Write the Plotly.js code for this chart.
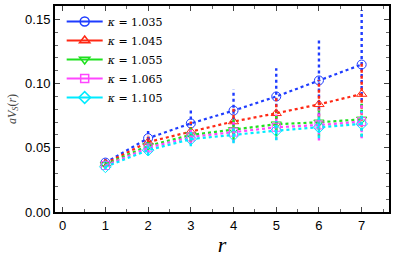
<!DOCTYPE html>
<html>
<head>
<meta charset="utf-8">
<script src="https://cdn.plot.ly/plotly-3.0.1.min.js"></script>
<style>html,body{margin:0;padding:0;background:#fff;}#chart{width:399px;height:257px;}</style>
</head>
<body>
<div id="chart"></div>
<script>
const r = [1, 2, 3, 4, 5, 6, 7];
const labels = ["1.035", "1.045", "1.055", "1.065", "1.105"];
const vBlue    = [0.0385, 0.0575, 0.0690, 0.0790, 0.0900, 0.1025, 0.1149];
const vRed     = [0.0378, 0.0545, 0.0626, 0.0705, 0.0769, 0.0839, 0.0919];
const vGreen   = [0.0370, 0.0516, 0.0600, 0.0640, 0.0684, 0.0699, 0.0722];
const vMagenta = [0.0362, 0.0500, 0.0585, 0.0622, 0.0660, 0.0678, 0.0704];
const vCyan    = [0.0352, 0.0482, 0.0568, 0.0600, 0.0634, 0.0660, 0.0686];
const eBlue    = [0.0030, 0.0060, 0.0110, 0.0165, 0.0220, 0.0320, 0.0425];
const eRed     = [0.0025, 0.0050, 0.0080, 0.0110, 0.0140, 0.0190, 0.0255];
const eGreen   = [0.0020, 0.0040, 0.0060, 0.0080, 0.0095, 0.0110, 0.0135];
const eMagenta = [0.0020, 0.0040, 0.0060, 0.0080, 0.0100, 0.0120, 0.0130];
const eCyan    = [0.0020, 0.0040, 0.0055, 0.0065, 0.0075, 0.0085, 0.0100];

const series = [
  {v: vBlue, e: eBlue, color: 'rgb(30,60,255)', symbol: 'circle-open', size: 9},
  {v: vRed, e: eRed, color: 'rgb(255,40,20)', symbol: 'triangle-up-open', size: 9},
  {v: vGreen, e: eGreen, color: 'rgb(30,225,30)', symbol: 'triangle-down-open', size: 9},
  {v: vMagenta, e: eMagenta, color: 'rgb(255,70,255)', symbol: 'square-open', size: 8},
  {v: vCyan, e: eCyan, color: 'rgb(0,235,255)', symbol: 'diamond-open', size: 9}
];

const traces = [];
series.forEach((s, i) => {
  const ex = [], ey = [];
  r.forEach((x, k) => { ex.push(x, x, null); ey.push(s.v[k] - s.e[k], s.v[k] + s.e[k], null); });
  traces.push({x: ex, y: ey, mode: 'lines', showlegend: false, hoverinfo: 'skip',
    line: {color: s.color, width: 2.4, dash: 'dot'}});
  traces.push({x: r, y: s.v, mode: 'lines+markers', showlegend: false,
    line: {color: s.color, width: 2.2, dash: 'dot'},
    marker: {symbol: s.symbol, size: s.size, color: s.color, line: {width: 1, color: s.color}}});
});
series.forEach((s, i) => {
  traces.push({x: [null], y: [null], mode: 'lines+markers', name: '<i>κ</i> = ' + labels[i],
    line: {color: s.color, width: 2},
    marker: {symbol: s.symbol, size: s.size, color: s.color, line: {width: 1.5, color: s.color}}});
});

const layout = {
  width: 399, height: 257,
  margin: {l: 55, r: 10, t: 6, b: 45},
  paper_bgcolor: '#fff', plot_bgcolor: '#fff',
  showlegend: true,
  legend: {x: 0.02, y: 0.995, xanchor: 'left', yanchor: 'top', bgcolor: 'rgba(0,0,0,0)',
    font: {family: 'DejaVu Serif, serif', size: 11, color: '#000'}, itemwidth: 36,
    tracegroupgap: 0},
  xaxis: {range: [-0.18, 7.64], tickmode: 'array', tickvals: [0,1,2,3,4,5,6,7],
    ticks: 'inside', ticklen: 5, tickwidth: 1, tickcolor: '#444',
    minor: {dtick: 0.5, ticks: 'inside', ticklen: 3, tickcolor: '#666'},
    showline: true, linewidth: 2, linecolor: '#000', mirror: 'allticks',
    showgrid: false, zeroline: false,
    tickfont: {family: 'Liberation Sans, Arial, sans-serif', size: 13, color: '#000'},
    title: {text: '<i>r</i>', font: {family: 'Liberation Serif, serif', size: 22, color: '#000'}, standoff: 5}},
  yaxis: {range: [0, 0.1605], tickmode: 'array', tickvals: [0, 0.05, 0.10, 0.15],
    ticktext: ['0.00', '0.05', '0.10', '0.15'],
    ticks: 'inside', ticklen: 5, tickwidth: 1, tickcolor: '#444',
    minor: {dtick: 0.01, ticks: 'inside', ticklen: 3, tickcolor: '#666'},
    showline: true, linewidth: 2, linecolor: '#000', mirror: 'allticks',
    showgrid: false, zeroline: false,
    tickfont: {family: 'Liberation Sans, Arial, sans-serif', size: 13, color: '#000'},
    title: {text: '<i>aV</i><sub><i>S</i></sub>(<i>r</i>)', font: {family: 'Liberation Serif, serif', size: 12, color: '#444'}, standoff: 6}}
};

Plotly.newPlot('chart', traces, layout, {staticPlot: true, displayModeBar: false});
</script>
</body>
</html>
